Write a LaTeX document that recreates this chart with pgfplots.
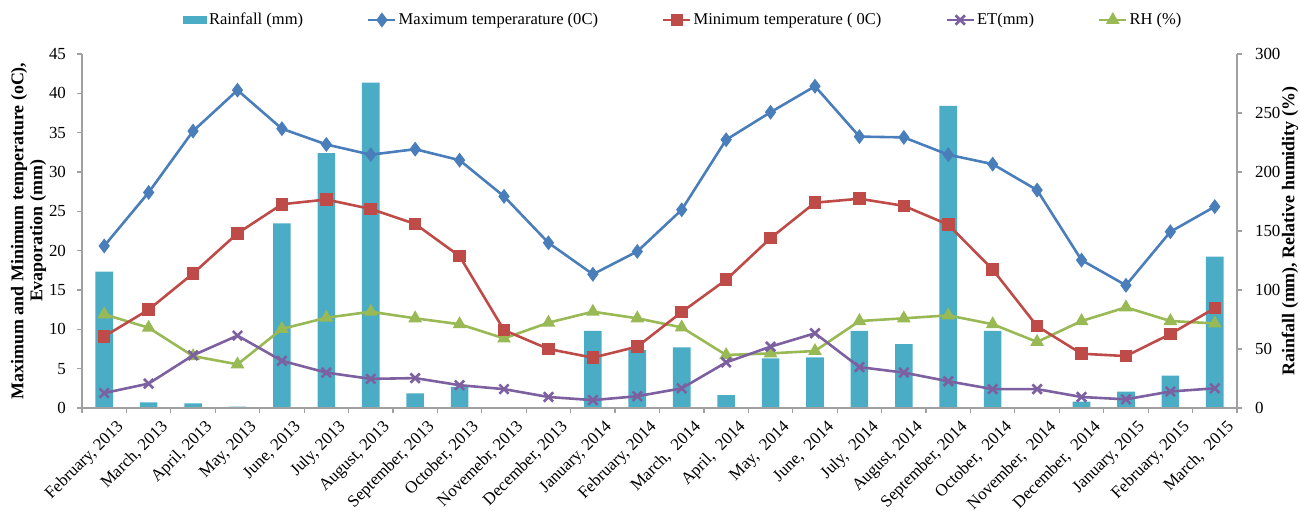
\documentclass[border=0pt]{standalone}
\usepackage{fontspec}
\setmainfont{Liberation Serif}
\usepackage{pgfplots}
\usepackage{pgfplotstable}
\pgfplotsset{compat=1.18}
\definecolor{rain}{HTML}{4BACC6}
\definecolor{cmax}{HTML}{4A7EBB}
\definecolor{cmin}{HTML}{BE4B48}
\definecolor{cet}{HTML}{7D60A0}
\definecolor{crh}{HTML}{98B954}
\definecolor{axc}{HTML}{A0A0A0}

\pgfplotstableread{
x rain tmax tmin et rh
0 115.5 20.6 9.1 1.9 79.4
1 4.8 27.4 12.5 3.1 68
2 4.0 35.2 17.1 6.7 44
3 1.1 40.4 22.2 9.2 37
4 156.5 35.5 25.9 6.0 67
5 216 33.5 26.5 4.5 76.5
6 275.7 32.2 25.3 3.7 81.6
7 12.4 32.9 23.4 3.8 76
8 18 31.5 19.3 2.9 71
9 0 26.9 9.9 2.4 59
10 0.8 21.0 7.5 1.4 72.3
11 65.3 17.0 6.4 1.0 81.6
12 49 19.9 7.8 1.5 76
13 51.4 25.2 12.2 2.5 68.3
14 11 34.1 16.3 5.8 44.9
15 42 37.6 21.6 7.8 46.3
16 43 40.9 26.1 9.5 48.3
17 65.3 34.5 26.6 5.2 73.7
18 54.2 34.4 25.7 4.5 76
19 256 32.2 23.3 3.4 78.5
20 65.3 31.0 17.6 2.4 71
21 0 27.7 10.4 2.4 56
22 5.4 18.8 6.9 1.4 73.7
23 13.8 15.6 6.6 1.1 85.3
24 27.4 22.4 9.4 2.1 73.7
25 128.2 25.6 12.7 2.5 71.7
}\data

\pgfplotsset{
  common/.style={
    scale only axis, width=577.5bp, height=177bp,
    xmin=-0.5, xmax=25.5,
    /pgf/number format/assume math mode=true,
    tick label style={font=\fontsize{8.5}{10}\selectfont},
    axis line style={draw=axc, line width=0.6pt},
    tick style={draw=axc, line width=0.6pt},
    tick align=outside,
    major tick length=2.5bp, minor tick length=2.5bp,
  },
  linelegend/.style={legend image code/.code={%
    \draw[mark repeat=2,mark phase=2,##1] plot coordinates {(0bp,0bp)(6.75bp,0bp)(13.5bp,0bp)};}},
}

\begin{document}
\begin{tikzpicture}
% right axis: rainfall and RH
\begin{axis}[common,
  ymin=0, ymax=300,
  axis x line=none,
  axis y line*=right,
  ytick={0,50,...,300},
  yticklabel style={anchor=west, xshift=3bp},
  every axis y label/.style={at={(axis description cs:1.0459,0.5)}, rotate=90, anchor=center,
    font=\fontsize{9}{10.5}\selectfont\bfseries},
  ylabel={Rainfall (mm), Relative humidity (\%)},
  legend columns=-1,
  legend style={draw=none, fill=none, inner sep=0pt, outer sep=0pt,
    at={(axis description cs:0,1)}, anchor=west, xshift=50.5bp, yshift=17bp,
    font=\fontsize{8.3}{10}\selectfont,
    nodes={inner sep=1bp},
    /tikz/every even column/.append style={column sep=31bp}},
]
\addplot[ybar, bar width=8.8bp, bar shift=0pt, fill=rain, draw=none,
  legend image code/.code={\fill[rain] (0bp,-2bp) rectangle (12bp,2bp);}]
  table[x=x,y=rain]{\data};
\addlegendentry{Rainfall (mm)}
\addlegendimage{linelegend, cmax, line width=1.3pt, mark=diamond*, mark size=2.7pt, mark options={solid, fill=cmax}}
\addlegendentry{Maximum temperarature (0C)}
\addlegendimage{linelegend, cmin, line width=1.3pt, mark=square*, mark size=2.5pt, mark options={solid, fill=cmin}}
\addlegendentry{Minimum temperature ( 0C)}
\addlegendimage{linelegend, cet, line width=1.3pt, mark=x, mark size=3.3pt, mark options={solid}}
\addlegendentry{ET(mm)}
\addplot[linelegend, crh, line width=1.3pt, mark=triangle*, mark size=2.7pt, mark options={solid, fill=crh}]
  table[x=x,y=rh]{\data};
\addlegendentry{RH (\%)}
\end{axis}
% left axis: temperatures and ET
\begin{axis}[common,
  ymin=0, ymax=45,
  axis y line*=left, axis x line*=bottom,
  ytick={0,5,...,45},
  yticklabel style={anchor=east, xshift=-2bp},
  xtick={0,...,25},
  major x tick style={draw=none},
  minor xtick={-0.5,0.5,...,25.5},
  xticklabels={{February, 2013},{March, 2013},{April, 2013},{May, 2013},{June, 2013},{July, 2013},{August, 2013},{September, 2013},{October, 2013},{Novemebr, 2013},{December, 2013},{January, 2014},{February, 2014},{March,\ \ 2014},{April,\ \ 2014},{May,\ \ 2014},{June,\ \ 2014},{July,\ \ 2014},{August, 2014},{September, 2014},{October,\ \ 2014},{November,\ \ 2014},{December,\ \ 2014},{January, 2015},{February, 2015},{March,\ \ 2015}},
  xticklabel style={rotate=45, anchor=north east, inner sep=0pt, yshift=-6bp, xshift=2bp},
  every axis y label/.style={at={(axis description cs:-0.0463,0.5)}, rotate=90, anchor=center,
    align=center, font=\fontsize{9}{9.5}\selectfont\bfseries},
  ylabel={Maximum and Minimum temperature (oC),\\Evaporation (mm)},
]
\addplot[cmax, line width=1.3pt, mark=diamond*, mark size=2.7pt, mark options={solid, fill=cmax}]
  table[x=x,y=tmax]{\data};
\addplot[cmin, line width=1.3pt, mark=square*, mark size=2.5pt, mark options={solid, fill=cmin}]
  table[x=x,y=tmin]{\data};
\addplot[cet, line width=1.3pt, mark=x, mark size=3.3pt, mark options={solid}]
  table[x=x,y=et]{\data};
\end{axis}
\pgfresetboundingbox
\path[use as bounding box] (-41bp,-54.5bp) rectangle (609bp,204bp);
\end{tikzpicture}
\end{document}
